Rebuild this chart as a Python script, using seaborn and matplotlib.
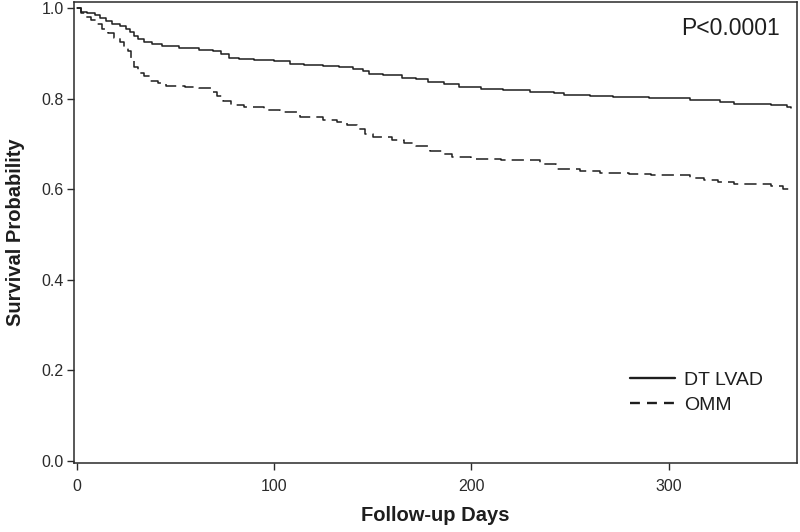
import matplotlib
matplotlib.use("Agg")
import matplotlib.pyplot as plt
import seaborn as sns
import pandas as pd

lvad_days = [0, 2, 5, 9, 12, 15, 18, 22, 25, 27, 29, 31, 34, 38, 43, 52, 62, 69, 73, 77, 82, 90,
             100, 108, 115, 125, 133, 140, 145, 148, 155, 165, 172, 178, 186, 194, 205, 216, 230,
             242, 247, 260, 272, 290, 311, 326, 333, 352, 360, 362]
lvad_surv = [1.0, 0.993, 0.99, 0.985, 0.978, 0.972, 0.965, 0.96, 0.955, 0.948, 0.94, 0.932, 0.926,
             0.921, 0.916, 0.913, 0.909, 0.906, 0.899, 0.891, 0.888, 0.886, 0.883, 0.877, 0.875,
             0.873, 0.870, 0.867, 0.862, 0.855, 0.852, 0.847, 0.843, 0.838, 0.832, 0.826, 0.822,
             0.819, 0.816, 0.813, 0.808, 0.806, 0.804, 0.801, 0.798, 0.793, 0.789, 0.786, 0.783, 0.78]

omm_days = [0, 2, 4, 7, 10, 13, 16, 19, 22, 24, 26, 27.5, 29, 31, 34, 37, 41, 45, 55, 62, 68, 71,
            74, 78, 85, 95, 103, 113, 125, 132, 137, 142, 146, 150, 160, 166, 172, 179, 185, 190,
            200, 215, 235, 243, 255, 265, 280, 291, 311, 318, 325, 333, 345, 352, 358, 362]
omm_surv = [1.0, 0.99, 0.982, 0.975, 0.966, 0.955, 0.945, 0.935, 0.925, 0.915, 0.905, 0.89, 0.87,
            0.857, 0.85, 0.84, 0.834, 0.829, 0.827, 0.823, 0.815, 0.806, 0.795, 0.786, 0.781,
            0.775, 0.77, 0.759, 0.754, 0.75, 0.742, 0.733, 0.722, 0.715, 0.71, 0.703, 0.695,
            0.685, 0.678, 0.672, 0.668, 0.665, 0.657, 0.645, 0.641, 0.636, 0.634, 0.631, 0.625,
            0.62, 0.617, 0.613, 0.611, 0.608, 0.601, 0.594]

groups = ["DT LVAD", "OMM"]
x_ticks = [0, 100, 200, 300]
y_ticks = [0.0, 0.2, 0.4, 0.6, 0.8, 1.0]

df = pd.concat([
    pd.DataFrame({"days": lvad_days, "surv": lvad_surv, "group": groups[0]}),
    pd.DataFrame({"days": omm_days, "surv": omm_surv, "group": groups[1]}),
], ignore_index=True)

sns.set_style("white")
plt.rcParams["font.family"] = ["Liberation Sans", "DejaVu Sans"]

ink = "#1e1e1e"
fig = plt.figure(figsize=(8, 5.32), dpi=100)
ax = fig.add_axes([0.0925, 0.1297, 0.996 - 0.0925, 0.9962 - 0.1297])

sns.lineplot(data=df, x="days", y="surv", style="group", style_order=groups,
             dashes={"DT LVAD": "", "OMM": (8, 4)}, color=ink, linewidth=1.1,
             drawstyle="steps-post", errorbar=None, estimator=None, ax=ax, legend=True)

ax.set_xlim(-1.4, 365)
ax.set_ylim(-0.0045, 1.014)
ax.set_xticks(x_ticks)
ax.set_xticklabels([str(t) for t in x_ticks])
ax.set_yticks(y_ticks)
ax.set_yticklabels([f"{t:.1f}" for t in y_ticks])

for s in ax.spines.values():
    s.set_color("#2a2a2a")
    s.set_linewidth(1.1)

ax.tick_params(axis="both", direction="out", length=5, width=1.0, color="#2a2a2a",
               labelsize=11.5, labelcolor="#2a2a2a", left=True, bottom=True)
ax.tick_params(axis="x", pad=6.5)
ax.tick_params(axis="y", pad=2.5)

ax.set_xlabel("Follow-up Days", fontsize=14.5, fontweight="bold", color=ink, labelpad=9)
ax.set_ylabel("Survival Probability", fontsize=14.5, fontweight="bold", color=ink, labelpad=12)

ax.text(780 / 800, 1 - 35 / 532, "P<0.0001", transform=fig.transFigure, ha="right",
        va="baseline", fontsize=16.5, color=ink)

handles, labels = ax.get_legend_handles_labels()
leg = ax.legend(handles=handles, labels=labels, loc="upper left",
                bbox_to_anchor=(630 / 800, 1 - 371 / 532), bbox_transform=fig.transFigure,
                frameon=False, fontsize=14, handlelength=2.3, handletextpad=0.5,
                labelspacing=0.4, borderpad=0, borderaxespad=0)
leg_lines = leg.get_lines()
for h in leg_lines:
    h.set_linewidth(1.7)
leg_lines[1].set_dashes([4.2, 3.0])
for t in leg.get_texts():
    t.set_color(ink)

fig.savefig("out.png", dpi=100)
